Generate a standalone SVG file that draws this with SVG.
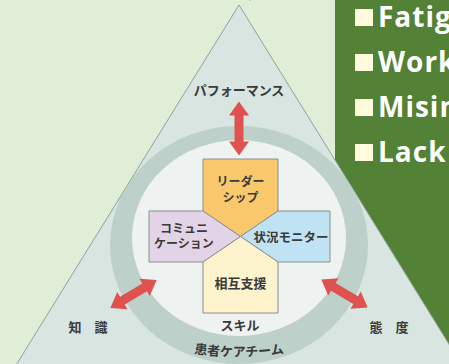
<svg xmlns="http://www.w3.org/2000/svg" width="449" height="364" viewBox="0 0 449 364">
<style>
.jp{font-family:"Noto Sans CJK JP","Noto Sans",sans-serif;font-weight:bold;fill:#3a3a3a;text-anchor:middle}
.box{stroke:#8e8e8e;stroke-width:1}
.en{font-family:"Open Sans","Liberation Sans",sans-serif;font-weight:bold;fill:#ffffff;font-size:28px;letter-spacing:1px}
.bul{fill:#fffbdc}
.arr{fill:#e0524f}
</style>
<defs>
<path id="dbl" d="M-27,0 L-13,-10 L-13,-4.5 L13,-4.5 L13,-10 L27,0 L13,10 L13,4.5 L-13,4.5 L-13,10 Z"/>
<clipPath id="triClip"><polygon points="239,5 13,370 465,370"/></clipPath>
<path id="arcText" d="M170,349 Q239,364 308,349"/>
</defs>
<rect width="449" height="364" fill="#e1eed7"/>
<g id="title">
<text font-family="'Noto Sans CJK JP',sans-serif" font-weight="bold" font-size="40" fill="#000" y="-4"><tspan x="30">ソ</tspan><tspan x="75">ソ</tspan><tspan x="145">ー</tspan><tspan x="200">ト</tspan><tspan x="245">定</tspan></text>
</g>
<g id="green-panel">
<rect x="335" y="0" width="114" height="364" fill="#538135"/>
<rect class="bul" x="355" y="9" width="18" height="17"/>
<text class="en" x="378" y="27">Fatig</text>
<rect class="bul" x="355" y="54" width="18" height="17"/>
<text class="en" x="378" y="72">Work</text>
<rect class="bul" x="355" y="99" width="18" height="17"/>
<text class="en" x="378" y="117">Misin</text>
<rect class="bul" x="355" y="144" width="18" height="17"/>
<text class="en" x="378" y="162">Lack</text>
</g>
<g id="triangle">
<polygon points="239,5 13,370 465,370" fill="#d9e5e0" stroke="#8fa19b" stroke-width="1"/>
<g clip-path="url(#triClip)">
<ellipse cx="239" cy="245" rx="129" ry="119" fill="#bdd0c9"/>
<ellipse cx="239" cy="238" rx="107" ry="98" fill="#eef3f1"/>
</g>
</g>
<g id="performance"><text class="jp" x="239" y="95" font-size="13">パフォーマンス</text></g>
<g id="knowledge"><text class="jp" x="88" y="332" font-size="13">知　識</text></g>
<g id="attitude"><text class="jp" x="389" y="332" font-size="13">態　度</text></g>
<g id="skill"><text class="jp" x="240" y="330" font-size="13">スキル</text></g>
<g id="team"><text class="jp" font-size="13"><textPath href="#arcText" startOffset="50%">患者ケアチーム</textPath></text></g>
<g id="leadership">
<polygon class="box" points="203,159 278,159 278,211 240.5,236.5 203,211" fill="#f9c86c"/>
<text class="jp" x="240.5" y="185.5" font-size="12">リーダー</text>
<text class="jp" x="240.5" y="201.5" font-size="12">シップ</text>
</g>
<g id="communication">
<polygon class="box" points="149,211 203,211 240.5,236.5 203,262 149,262" fill="#e3d3e7"/>
<text class="jp" x="184" y="232.5" font-size="12">コミュニ</text>
<text class="jp" x="184" y="248" font-size="12">ケーション</text>
</g>
<g id="monitor">
<polygon class="box" points="330,211 330,262 278,262 240.5,236.5 278,211" fill="#c0e3f3"/>
<text class="jp" x="291" y="242" font-size="12.5">状況モニター</text>
</g>
<g id="support">
<polygon class="box" points="203,262 240.5,236.5 278,262 278,313 203,313" fill="#fdf3cd"/>
<text class="jp" x="240.5" y="288" font-size="13">相互支援</text>
</g>
<g id="connectors">
<use href="#dbl" class="arr" transform="translate(239,128.5) rotate(90)"/>
<use href="#dbl" class="arr" transform="translate(133.5,294) rotate(-31)"/>
<use href="#dbl" class="arr" transform="translate(344.5,293.5) rotate(31)"/>
</g>
</svg>
